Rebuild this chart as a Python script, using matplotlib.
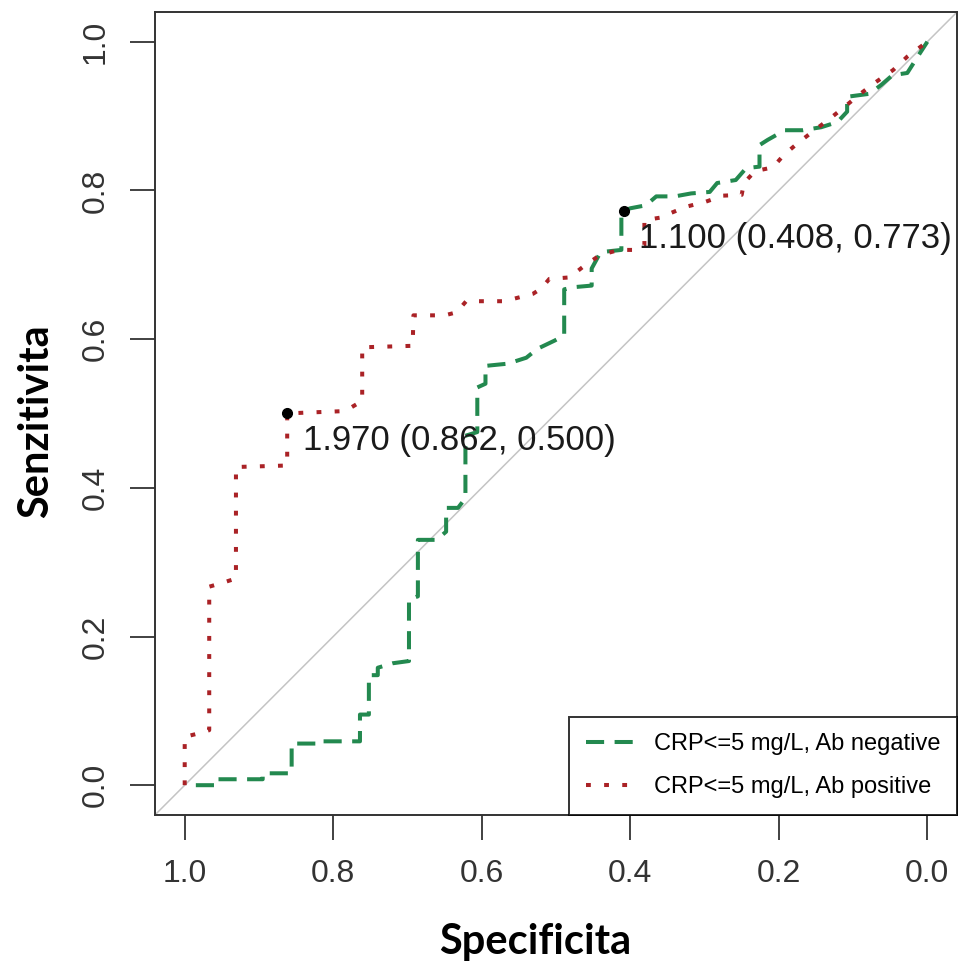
import matplotlib.pyplot as plt
from matplotlib.lines import Line2D

# curva ROC, CRP<=5 mg/L, Ab negative (specificita, sensitivita)
neg_spec = [0.985, 0.955, 0.955, 0.895, 0.895, 0.856, 0.856, 0.822, 0.822, 0.764,
            0.764, 0.752, 0.752, 0.740, 0.740, 0.720, 0.698, 0.698, 0.686, 0.686,
            0.661, 0.648, 0.648, 0.632, 0.622, 0.622, 0.606, 0.606, 0.595, 0.595,
            0.565, 0.540, 0.525, 0.502, 0.489, 0.489, 0.475, 0.452, 0.452, 0.440,
            0.412, 0.412, 0.408, 0.400, 0.379, 0.365, 0.340, 0.318, 0.293, 0.283,
            0.258, 0.244, 0.226, 0.226, 0.215, 0.192, 0.168, 0.143, 0.121, 0.108,
            0.108, 0.078, 0.062, 0.047, 0.027, 0.013, 0.000]
neg_sens = [0.000, 0.000, 0.008, 0.008, 0.016, 0.016, 0.056, 0.056, 0.059, 0.059,
            0.095, 0.095, 0.148, 0.148, 0.158, 0.164, 0.167, 0.250, 0.254, 0.330,
            0.330, 0.341, 0.373, 0.373, 0.386, 0.470, 0.475, 0.535, 0.540, 0.564,
            0.567, 0.575, 0.587, 0.598, 0.605, 0.667, 0.670, 0.672, 0.695, 0.717,
            0.720, 0.773, 0.773, 0.776, 0.780, 0.792, 0.792, 0.796, 0.798, 0.810,
            0.814, 0.830, 0.832, 0.861, 0.868, 0.881, 0.881, 0.885, 0.892, 0.906,
            0.926, 0.930, 0.942, 0.955, 0.958, 0.980, 1.000]

# curva ROC, CRP<=5 mg/L, Ab positive
pos_spec = [1.000, 1.000, 0.984, 0.967, 0.967, 0.950, 0.931, 0.931, 0.862, 0.862,
            0.840, 0.790, 0.776, 0.761, 0.761, 0.693, 0.692, 0.682, 0.650, 0.634,
            0.621, 0.572, 0.558, 0.531, 0.520, 0.509, 0.482, 0.464, 0.441, 0.415,
            0.390, 0.381, 0.381, 0.356, 0.347, 0.325, 0.298, 0.275, 0.250, 0.247,
            0.232, 0.208, 0.193, 0.174, 0.152, 0.132, 0.112, 0.089, 0.069, 0.046,
            0.027, 0.000]
pos_sens = [0.000, 0.065, 0.069, 0.074, 0.267, 0.272, 0.278, 0.428, 0.430, 0.500,
            0.501, 0.503, 0.508, 0.517, 0.589, 0.591, 0.632, 0.632, 0.632, 0.636,
            0.651, 0.651, 0.654, 0.661, 0.668, 0.681, 0.683, 0.697, 0.713, 0.720,
            0.720, 0.726, 0.760, 0.764, 0.769, 0.778, 0.785, 0.793, 0.794, 0.810,
            0.826, 0.831, 0.848, 0.864, 0.881, 0.896, 0.912, 0.931, 0.946, 0.962,
            0.980, 1.000]

# soglie stampate
thr_labels = ['1.970 (0.862, 0.500)', '1.100 (0.408, 0.773)']
thr_spec = [0.862, 0.408]
thr_sens = [0.500, 0.773]
thr_text_pos = [(0.841, 0.463), (0.388, 0.735)]

legend_labels = ['CRP<=5 mg/L, Ab negative', 'CRP<=5 mg/L, Ab positive']
col_neg = '#23894f'
col_pos = '#aa2226'

plt.rcParams['font.family'] = ['Liberation Sans', 'DejaVu Sans']

fig = plt.figure(figsize=(9.58, 9.69), dpi=100)
ax = fig.add_axes([0.1618, 0.159, 0.8372, 0.8286])

ax.axline((1, 0), (0, 1), color='#c4c4c4', lw=1.1, zorder=1)
ax.plot(neg_spec, neg_sens, color=col_neg, lw=2.9, dashes=(4.5, 2.6),
        solid_capstyle='butt', zorder=3)
ax.plot(pos_spec, pos_sens, color=col_pos, lw=2.9, dashes=(1.2, 3.3),
        zorder=3)

ax.plot(thr_spec, thr_sens, 'o', color='black', ms=7, zorder=4, ls='none')
for lab, (tx, ty) in zip(thr_labels, thr_text_pos):
    ax.text(tx, ty, lab, fontsize=25, color='#1a1a1a', ha='left', va='center',
            clip_on=False, zorder=5)

ax.set_xlim(1.04, -0.04)
ax.set_ylim(-0.04, 1.04)
ticks = [0.0, 0.2, 0.4, 0.6, 0.8, 1.0]
ax.set_xticks(ticks)
ax.set_yticks(ticks)
ax.set_xticklabels([f'{t:.1f}' for t in ticks], fontsize=23, color='#333333')
ax.set_yticklabels([f'{t:.1f}' for t in ticks], fontsize=23, color='#333333',
                   rotation=90, va='center')
ax.tick_params(axis='both', length=18, width=1.3, color='#333333', pad=14)

for sp in ax.spines.values():
    sp.set_linewidth(1.4)
    sp.set_color('#333333')

ax.set_xlabel('Specificita', fontsize=30, fontweight='bold', family='Lato')
ax.set_ylabel('Senzitivita', fontsize=30, fontweight='bold', family='Lato')
ax.xaxis.set_label_coords(0.474, -0.135)
ax.yaxis.set_label_coords(-0.124, 0.49)

handles = [Line2D([], [], color=col_neg, lw=2.9, dashes=(4.5, 2.6)),
           Line2D([], [], color=col_pos, lw=2.9, dashes=(1.2, 3.3))]
leg = ax.legend(handles, legend_labels, loc='lower right', fontsize=17,
                frameon=True, fancybox=False, borderaxespad=0,
                handlelength=2.0, handletextpad=0.9, borderpad=0.7,
                labelspacing=0.9)
leg.get_frame().set_edgecolor('black')
leg.get_frame().set_linewidth(1.4)

fig.savefig('out.png', dpi=100)
